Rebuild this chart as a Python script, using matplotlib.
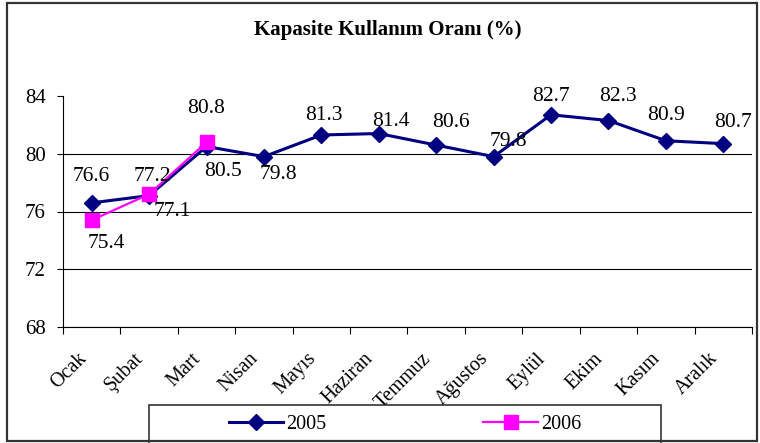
import matplotlib
matplotlib.use("Agg")
import matplotlib.pyplot as plt
from matplotlib.patches import Rectangle
from matplotlib.transforms import ScaledTranslation
import numpy as np

plt.rcParams['font.family'] = ['Liberation Serif', 'DejaVu Serif']

months = ["Ocak", "Şubat", "Mart", "Nisan", "Mayıs", "Haziran",
          "Temmuz", "Ağustos", "Eylül", "Ekim", "Kasım", "Aralık"]
values_2005 = [76.6, 77.1, 80.5, 79.8, 81.3, 81.4, 80.6, 79.8, 82.7, 82.3, 80.9, 80.7]
values_2006 = [75.4, 77.2, 80.8]
y_ticks = [68, 72, 76, 80, 84]

# label offsets in pixels (dx, dy down)
off_2005 = [(0, -26), (23, 16), (16, 25), (14, 18), (3, -19), (12, -12),
            (15, -23), (15, -15), (0, -18), (9, -24), (0, -25), (10, -21)]
off_2006 = [(15, 23), (3, -18), (0, -34)]

W, H = 760, 443
fig = plt.figure(figsize=(W / 100, H / 100), dpi=100)
ax = fig.add_axes([63 / W, 1 - 327 / H, 689 / W, 231 / H])

x5 = np.arange(len(values_2005))
x6 = np.arange(len(values_2006))
ax.plot(x5, values_2005, color='#000080', lw=2.2, marker='D', ms=8,
        markerfacecolor='#000080', markeredgecolor='#000080', label='2005', zorder=3)
ax.plot(x6, values_2006, color='#FF00FF', lw=1.6, marker='s', ms=9.5,
        markerfacecolor='#FF00FF', markeredgecolor='#FF00FF', label='2006', zorder=4)

for xi, v, (dx, dy) in zip(x5, values_2005, off_2005):
    ax.annotate(f"{v}", (xi, v), xytext=(dx * 0.72, -dy * 0.72), textcoords='offset points',
                ha='center', va='center', fontsize=15.5, zorder=5)
for xi, v, (dx, dy) in zip(x6, values_2006, off_2006):
    ax.annotate(f"{v}", (xi, v), xytext=(dx * 0.72, -dy * 0.72), textcoords='offset points',
                ha='center', va='center', fontsize=15.5, zorder=5)

ax.set_xlim(-0.5, len(months) - 0.5)
ax.set_ylim(68, 84)
ax.set_yticks(y_ticks)
ax.tick_params(axis='y', labelsize=15, length=4.3, pad=8, width=0.8)
ax.set_xticks(x5)
ax.set_xticks(np.arange(len(months) + 1) - 0.5, minor=True)
ax.set_xticklabels(months, rotation=45, ha='right', va='top', rotation_mode='anchor', fontsize=14.5)
ax.tick_params(axis='x', which='major', length=0, pad=16)
ax.tick_params(axis='x', which='minor', length=5, width=0.8)
for lab in ax.get_xticklabels():
    lab.set_transform(lab.get_transform() + ScaledTranslation(-15 / 100, 0, fig.dpi_scale_trans))

ax.yaxis.grid(True, color='black', lw=0.8)
ax.get_ygridlines()[-1].set_visible(False)
ax.set_axisbelow(True)
for s in ['top', 'right']:
    ax.spines[s].set_visible(False)
for s in ['left', 'bottom']:
    ax.spines[s].set_linewidth(0.8)

fig.text(388 / W, 1 - 30 / H, "Kapasite Kullanım Oranı (%)", ha='center', va='center',
         fontsize=15, fontweight='bold')

# legend box
fig.patches.append(Rectangle((149 / W, 1 - 446 / H), 512 / W, 41 / H, transform=fig.transFigure,
                             facecolor='white', edgecolor='#333333', lw=1.2, zorder=4))
leg = fig.legend(loc='center', bbox_to_anchor=(405 / W, 1 - 424 / H), ncol=2, frameon=False,
                 fontsize=14.5, columnspacing=7.8, handlelength=2.7, handletextpad=0.15)
leg.set_zorder(6)

# outer border
fig.patches.append(Rectangle((7 / W, 1 - 441 / H), 750 / W, 438 / H, transform=fig.transFigure,
                             facecolor='none', edgecolor='#333333', lw=1.6, zorder=7))

fig.savefig("out.png", dpi=100)
